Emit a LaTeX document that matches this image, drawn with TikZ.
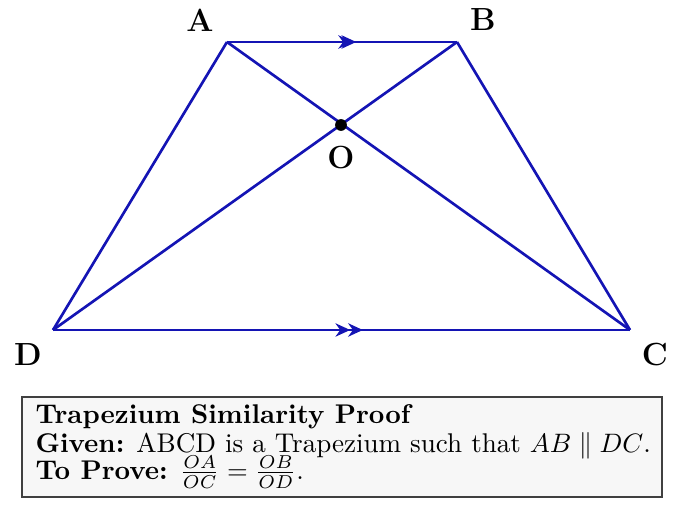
\documentclass[tikz,border=0pt]{standalone}
\usetikzlibrary{arrows.meta,decorations.markings}
\definecolor{linec}{RGB}{20,20,180}
\begin{document}
\begin{tikzpicture}[x=0.375pt,y=-0.375pt,
  edge/.style={draw=linec,line width=1pt},
  lbl/.style={font=\large\bfseries,inner sep=0pt},
]
\useasboundingbox (0,0) rectangle (683,512);
\coordinate (A) at (227,42);
\coordinate (B) at (457,42);
\coordinate (C) at (630,330);
\coordinate (D) at (53,330);
\coordinate (O) at (341,125);
\draw[edge,postaction={decorate},decoration={markings,
  mark=at position 0.548 with {\arrow[linec]{Stealth[length=5.5pt,width=5pt]}},
  mark=at position 0.562 with {\arrow[linec]{Stealth[length=5.5pt,width=5pt]}}}] (A) -- (B);
\draw[edge,postaction={decorate},decoration={markings,
  mark=at position 0.515 with {\arrow[linec]{Stealth[length=5.5pt,width=5pt]}},
  mark=at position 0.537 with {\arrow[linec]{Stealth[length=5.5pt,width=5pt]}}}] (D) -- (C);
\draw[edge] (B) -- (C);
\draw[edge] (A) -- (D);
\draw[edge] (A) -- (C);
\draw[edge] (B) -- (D);
\fill (O) circle (2.2pt);
\node[lbl] (lA) at (200,20) {A};
\node[lbl] (lB) at (483,20) {B};
\node[lbl] (lC) at (655,355) {C};
\node[lbl] (lD) at (28,355) {D};
\node[lbl] (lO) at (341,158) {O};
\draw[draw=black!75,fill=black!3,line width=0.6pt] (22,397) rectangle (662,497);
\node[anchor=north west,align=left,inner sep=0pt,font=\fontsize{10.15}{12}\selectfont] (txt) at (35,404) {\textbf{Trapezium Similarity Proof}\\[-1pt]
\textbf{Given:} ABCD is a Trapezium such that $AB \parallel DC$.\\[-2pt]
\textbf{To Prove:} $\frac{OA}{OC} = \frac{OB}{OD}$.};
\end{tikzpicture}
\end{document}
